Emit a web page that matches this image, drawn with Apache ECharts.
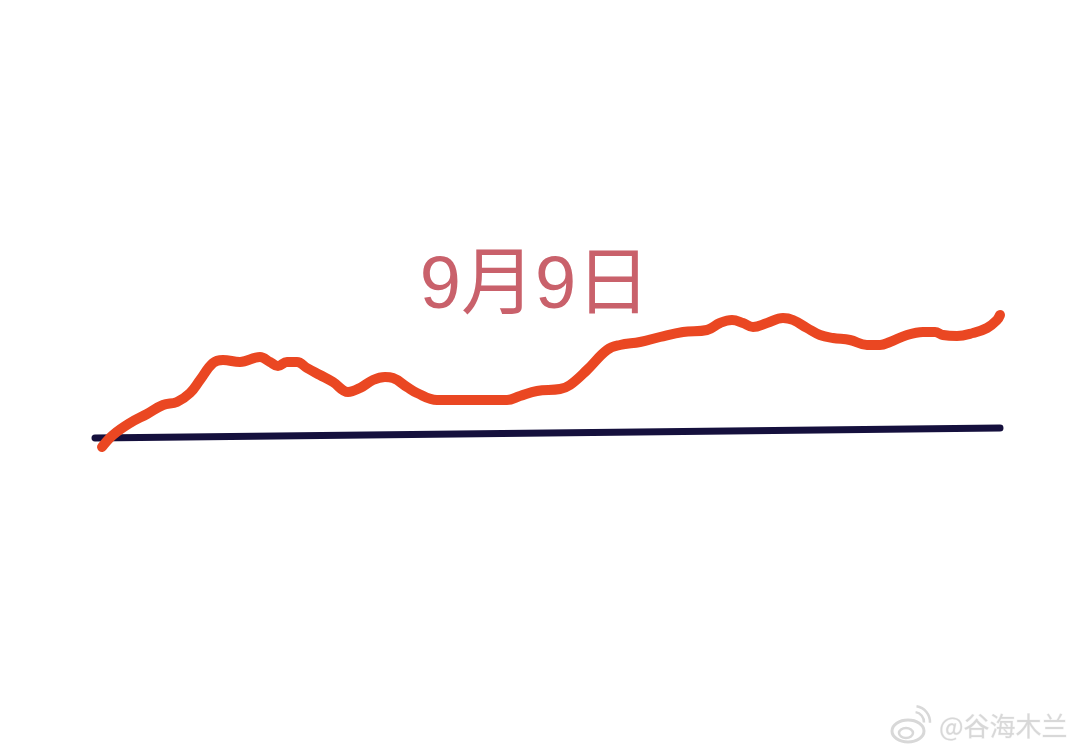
<!DOCTYPE html>
<html>
<head>
<meta charset="utf-8">
<script src="https://cdn.jsdelivr.net/npm/echarts@6/dist/echarts.min.js"></script>
<style>
html,body{margin:0;padding:0;background:#fff;}
#c{width:1080px;height:752px;}
</style>
</head>
<body>
<div id="c"></div>
<script>
// time progress (arbitrary units) and level above the starting baseline
var progress = [7,18,35,52,68,82,95,105,118,128,145,165,175,183,192,202,212,225,238,253,265,278,290,298,312,322,342,348,412,425,442,465,475,492,512,525,545,565,588,612,625,637,648,658,672,688,698,712,725,738,755,772,785,795,812,828,840,848,862,878,892,902,905];
var level = [-9,3,15,24,33,36,45,58,75,78,76,81,76,72,76,76,70,63,56,46,50,58,61,60,51,45,38,38,38,42,47,49,53,68,88,93,96,101,106,108,115,118,115,111,115,120,118,110,103,100,98,93,93,96,103,106,106,103,102,105,110,118,123];
var baseX = [0, 905];
var baseY = [0, 10];
var titleText = '9月9日';
var watermark = '@谷海木兰';

var chart = echarts.init(document.getElementById('c'));
chart.setOption({
  backgroundColor: '#ffffff',
  animation: false,
  grid: {left: 0, right: 0, top: 0, bottom: 0},
  xAxis: {type: 'value', min: -95, max: 985, show: false},
  yAxis: {type: 'value', min: -314, max: 438, show: false},
  title: {
    text: titleText,
    left: 530, top: 246, textAlign: 'center',
    textStyle: {color: '#c9616b', fontSize: 74, fontWeight: 'normal', fontFamily: '"Liberation Sans", "Noto Sans CJK SC"'}
  },
  graphic: [
    {type: 'text', right: 12, top: 713, style: {text: watermark, fill: '#d8d8d8', font: '26px "Noto Sans CJK SC"', stroke: '#f6f6f6', lineWidth: 1, shadowColor: 'rgba(0,0,0,0.2)', shadowBlur: 3}},
    {type: 'ellipse', shape: {cx: 908, cy: 731, rx: 16, ry: 11}, style: {fill: 'none', stroke: '#d8d8d8', lineWidth: 3}},
    {type: 'ellipse', shape: {cx: 906, cy: 733, rx: 7, ry: 5}, style: {fill: 'none', stroke: '#d8d8d8', lineWidth: 2.5}},
    {type: 'arc', shape: {cx: 914, cy: 722, r: 10, startAngle: -Math.PI*0.45, endAngle: 0.05}, style: {fill: 'none', stroke: '#d8d8d8', lineWidth: 2.5}},
    {type: 'arc', shape: {cx: 914, cy: 722, r: 16, startAngle: -Math.PI*0.45, endAngle: 0.05}, style: {fill: 'none', stroke: '#d8d8d8', lineWidth: 2.5}}
  ],
  series: [
    {
      type: 'line', data: baseX.map(function(x, i){ return [x, baseY[i]]; }),
      showSymbol: false, z: 1,
      lineStyle: {color: '#15103d', width: 7, cap: 'round'}
    },
    {
      type: 'line', data: progress.map(function(x, i){ return [x, level[i]]; }),
      smooth: 0.4, showSymbol: false, z: 2,
      lineStyle: {color: '#ea4722', width: 10, cap: 'round', join: 'round'}
    }
  ]
});
</script>
</body>
</html>
